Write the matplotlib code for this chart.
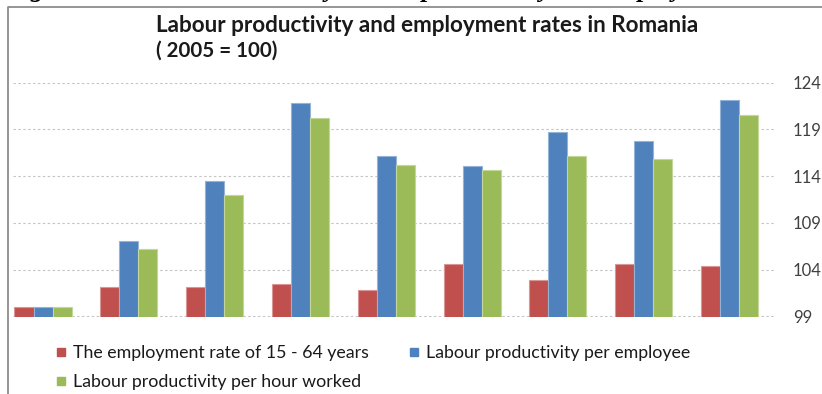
import matplotlib.pyplot as plt
from matplotlib.lines import Line2D
import numpy as np

# Indices, 2005 = 100
years = ["2005", "2006", "2007", "2008", "2009", "2010", "2011", "2012", "2013"]
employment_rate = [100.0, 102.1, 102.2, 102.5, 101.8, 104.6, 102.9, 104.6, 104.4]
prod_per_employee = [100.0, 107.1, 113.5, 121.8, 116.1, 115.1, 118.7, 117.8, 122.1]
prod_per_hour = [100.0, 106.2, 112.0, 120.2, 115.2, 114.6, 116.2, 115.8, 120.5]
y_ticks = [99, 104, 109, 114, 119, 124]

labels = ["The employment rate of 15 - 64 years",
          "Labour productivity per employee",
          "Labour productivity per hour worked"]
colors = ["#C0504D", "#4F81BD", "#9BBB59"]
edges = ["#D99694", "#95B3D7", "#C3D69B"]

W, H = 822, 394
fig = plt.figure(figsize=(W / 100, H / 100), dpi=100)
plt.rcParams['font.family'] = ['Lato', 'DejaVu Sans']

# plot area in pixels: left 13, right 775, top 82.5, bottom 316.5
ax = fig.add_axes([13 / W, 1 - 316.5 / H, (775 - 13) / W, (316.5 - 82.5) / H])

x = np.arange(len(years))
bw = 0.222
series = [employment_rate, prod_per_employee, prod_per_hour]
for k, vals in enumerate(series):
    ax.bar(x + (k - 1) * bw, vals, width=bw, color=colors[k],
           edgecolor=edges[k], linewidth=0.8, zorder=3, label=labels[k])

ax.set_ylim(99, 124)
ax.set_xlim(-0.35, 8.53)
ax.set_yticks(y_ticks)
ax.set_xticks([])
ax.yaxis.tick_right()
ax.tick_params(axis='y', length=0, pad=13, labelsize=12, labelcolor='#404040')
ax.grid(axis='y', color='#c4c4c4', linestyle=(0, (2.2, 2.2)), linewidth=0.8, zorder=0)
for s in ax.spines.values():
    s.set_visible(False)

# chart frame (top and left edges)
fig.add_artist(Line2D([8 / W, 8 / W, 1.0], [0.0, 1 - 7.3 / H, 1 - 7.3 / H],
                      transform=fig.transFigure, color='#8c8c8c', linewidth=1.3))

# caption of the figure above the frame, only its lower edge falls inside
fig.text(6 / W, 1 + 3 / H,
         "Figure 1. Trends in the hourly labour productivity and employment rates in Romania",
         family='Liberation Serif', fontsize=19, fontweight='bold', style='italic',
         va='baseline', ha='left', color='black')

fig.text(156 / W, 1 - 32.3 / H, "Labour productivity and employment rates in Romania",
         fontsize=16.2, fontweight='bold', color='#1a1a1a', va='baseline', ha='left')
fig.text(156 / W, 1 - 57 / H, "( 2005 = 100)",
         fontsize=14.8, fontweight='bold', color='#1a1a1a', va='baseline', ha='left')

handles = [Line2D([], [], marker='s', linestyle='none', markersize=5.8,
                  markerfacecolor=c, markeredgecolor=c) for c in colors]
order = [0, 2, 1]
fig.legend([handles[i] for i in order], [labels[i] for i in order],
           loc='upper left', bbox_to_anchor=(57 / W, 1 - 345 / H), ncol=2,
           frameon=False, fontsize=12.8, handlelength=0.45, handletextpad=0.45,
           labelspacing=0.72, columnspacing=2.3, borderpad=0, borderaxespad=0,
           labelcolor='#1a1a1a')

fig.savefig("out.png", dpi=100)
